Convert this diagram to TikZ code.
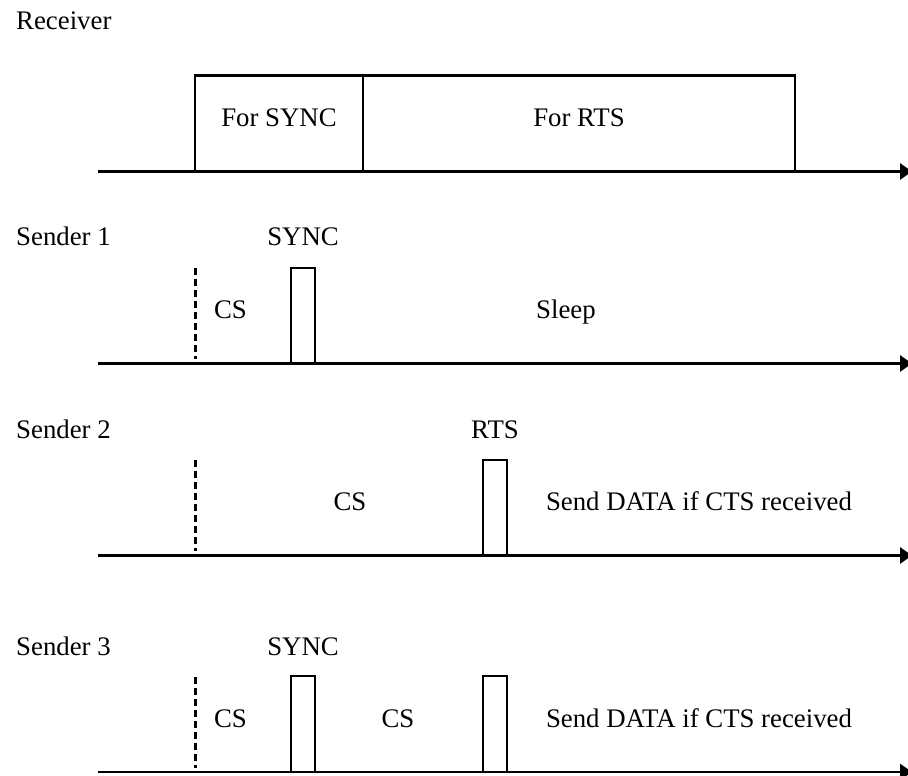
\documentclass[tikz,border=0pt]{standalone}
\usepackage{fontspec}
\setmainfont{Liberation Serif}
\usetikzlibrary{arrows.meta}
\begin{document}
\begin{tikzpicture}[x=1pt,y=-1pt,
  every node/.style={font=\fontsize{26.8}{30}\selectfont, inner sep=0pt, anchor=base},
  timeaxis/.style={line width=2.8pt, -{Triangle[length=12pt,width=16pt]}},
  slot/.style={draw, line width=2.5pt},
  csmark/.style={line width=3pt, dash pattern=on 6.5pt off 4.5pt}]
\useasboundingbox (0,0) rectangle (908,776);

% ---------- Receiver ----------
\node[anchor=base west] (rxlabel) at (16,30) {Receiver};
\draw[slot] (195,171.5) -- (195,75.7) -- (795,75.7) -- (795,171.5);
\draw[slot] (363,75.7) -- (363,171.5);
\node (forsync) at (279,126) {For SYNC};
\node (forrts) at (579,126) {For RTS};
\coordinate (rx0) at (98,171.5);
\coordinate (rx1) at (912,171.5);
\draw[timeaxis] (rx0) -- (rx1);

% ---------- Sender 1 ----------
\node[anchor=base west] (s1label) at (16,245.5) {Sender 1};
\node (s1sync) at (303,245.5) {SYNC};
\coordinate (s1d0) at (195,268);
\coordinate (s1d1) at (195,359);
\draw[csmark] (s1d0) -- (s1d1);
\node (s1cs) at (230.5,318) {CS};
\draw[slot] (291,363.5) rectangle (315,268);
\node (s1sleep) at (566,318) {Sleep};
\coordinate (s10) at (98,363.5);
\coordinate (s11) at (912,363.5);
\draw[timeaxis] (s10) -- (s11);

% ---------- Sender 2 ----------
\node[anchor=base west] (s2label) at (16,438) {Sender 2};
\node (s2rts) at (495,438) {RTS};
\coordinate (s2d0) at (195,460);
\coordinate (s2d1) at (195,551);
\draw[csmark] (s2d0) -- (s2d1);
\node (s2cs) at (350,510) {CS};
\draw[slot] (483,555.5) rectangle (507,460);
\node (s2data) at (699,510) {Send DATA if CTS received};
\coordinate (s20) at (98,555.5);
\coordinate (s21) at (912,555.5);
\draw[timeaxis] (s20) -- (s21);

% ---------- Sender 3 ----------
\node[anchor=base west] (s3label) at (16,655) {Sender 3};
\node (s3sync) at (303,655) {SYNC};
\coordinate (s3d0) at (195,677);
\coordinate (s3d1) at (195,768);
\draw[csmark] (s3d0) -- (s3d1);
\node (s3cs1) at (230.5,727) {CS};
\draw[slot] (291,772) rectangle (315,676);
\node (s3cs2) at (398,727) {CS};
\draw[slot] (483,772) rectangle (507,676);
\node (s3data) at (699,727) {Send DATA if CTS received};
\coordinate (s30) at (98,772);
\coordinate (s31) at (912,772);
\draw[timeaxis] (s30) -- (s31);
\end{tikzpicture}
\end{document}
